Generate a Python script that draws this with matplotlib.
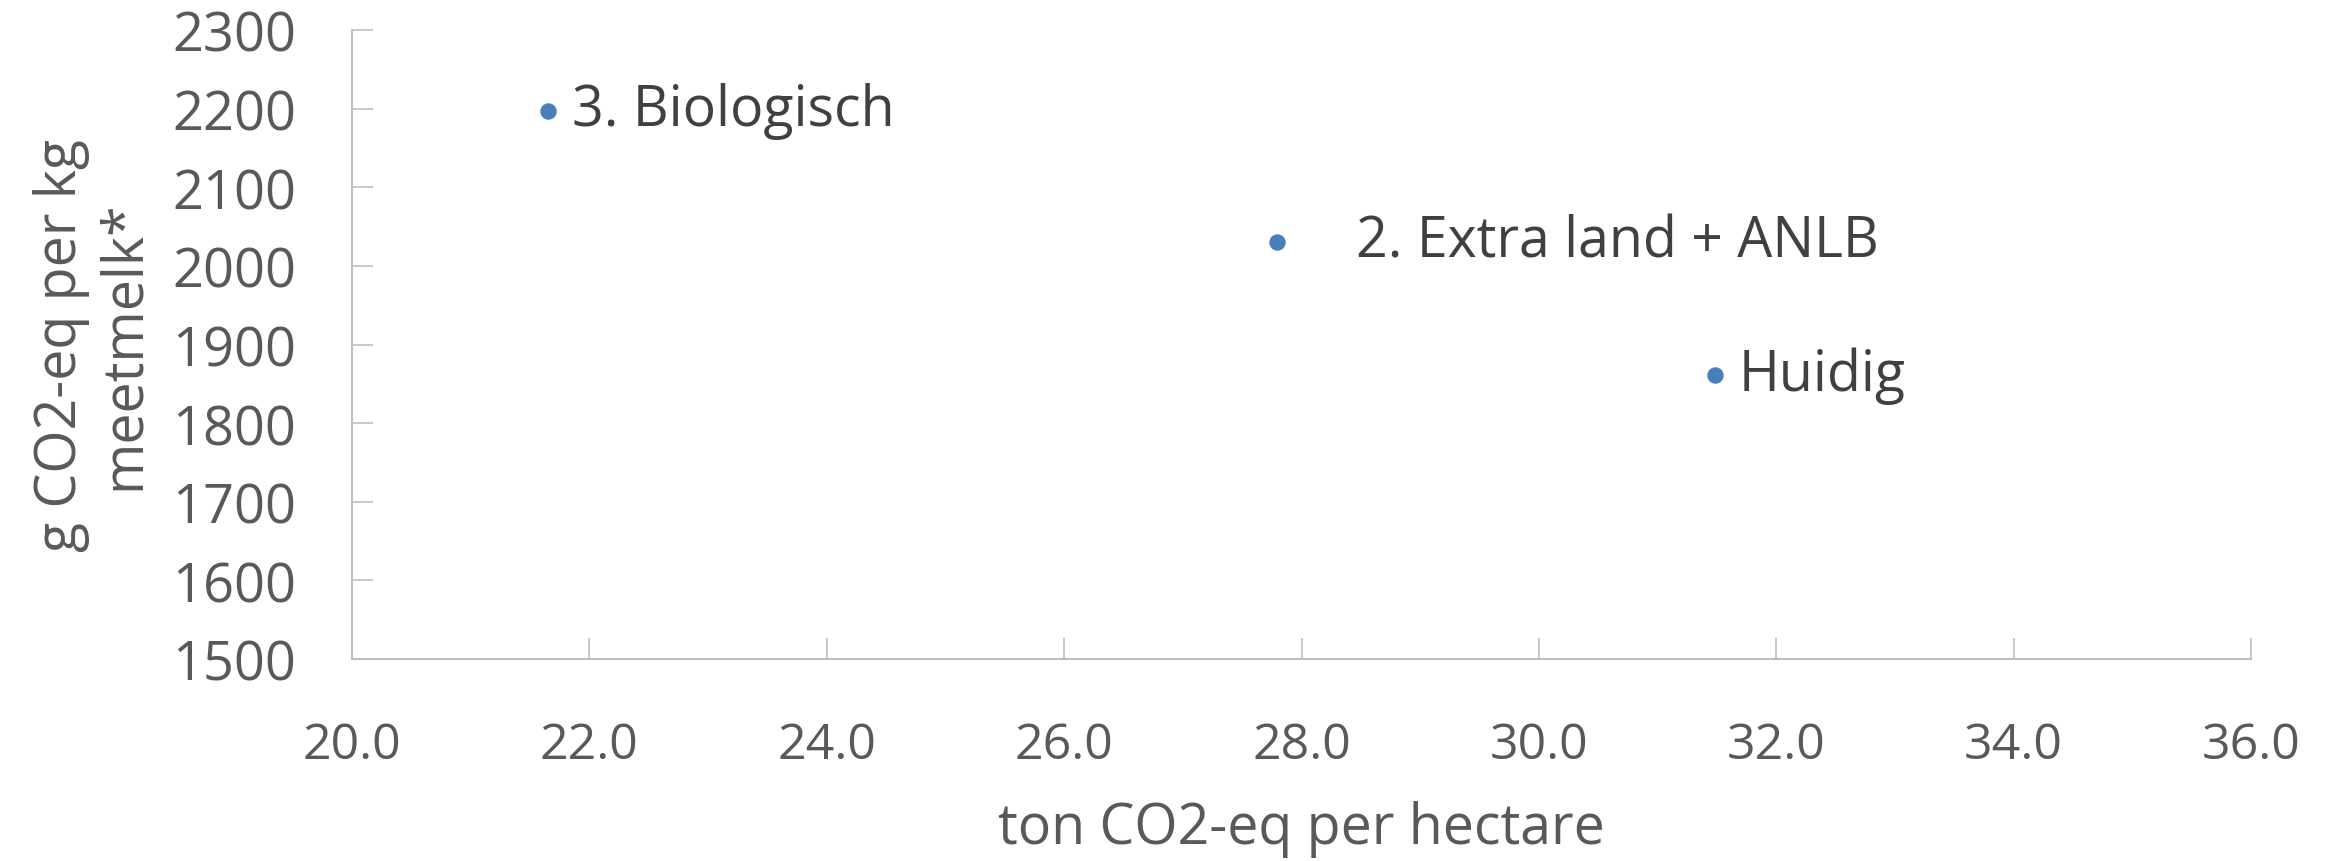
import numpy as np
import matplotlib.pyplot as plt

plt.rcParams['font.family'] = ['Open Sans', 'DejaVu Sans']

# scenario results: emissions per hectare vs per kg of milk
scenarios = ['Huidig', '2. Extra land + ANLB', '3. Biologisch']
ton_per_ha = [31.48, 27.79, 21.65]
g_per_kg = [1861, 2030, 2197]
label_gap = [0.2, 0.67, 0.2]  # horizontal offset of each label, in x units

fig = plt.figure(figsize=(23.41, 8.62), dpi=100)
ax = fig.add_axes([352/2341, 1 - 660/862, (2251-352)/2341, (660-31)/862])

ax.scatter(ton_per_ha, g_per_kg, s=140, color='#4A7EBB', zorder=3, linewidths=0)
for name, x, y, dx in zip(scenarios, ton_per_ha, g_per_kg, label_gap):
    ax.text(x + dx, y, name, fontsize=40, color='#404040', va='center', ha='left')

ax.set_xlim(20, 36)
ax.set_ylim(1500, 2300)
ax.set_xticks(np.arange(20, 36.1, 2))
ax.set_xticklabels([f'{v:.1f}' for v in np.arange(20, 36.1, 2)])
ax.set_yticks(np.arange(1500, 2301, 100))

for side in ['top', 'right']:
    ax.spines[side].set_visible(False)
for side in ['left', 'bottom']:
    ax.spines[side].set_color('#BFBFBF')
    ax.spines[side].set_linewidth(1.5)

ax.tick_params(direction='in', length=15, width=1.2, color='#BFBFBF',
               labelcolor='#595959')
ax.tick_params(axis='x', pad=44, labelsize=36)
ax.tick_params(axis='y', pad=40, labelsize=39)

ax.set_xlabel('ton CO2-eq per hectare', fontsize=40, color='#595959', labelpad=22)
ax.set_ylabel('g CO2-eq per kg\nmeetmelk*', fontsize=40, color='#595959',
              labelpad=14, linespacing=1.15)

fig.savefig('out.png', dpi=100)
